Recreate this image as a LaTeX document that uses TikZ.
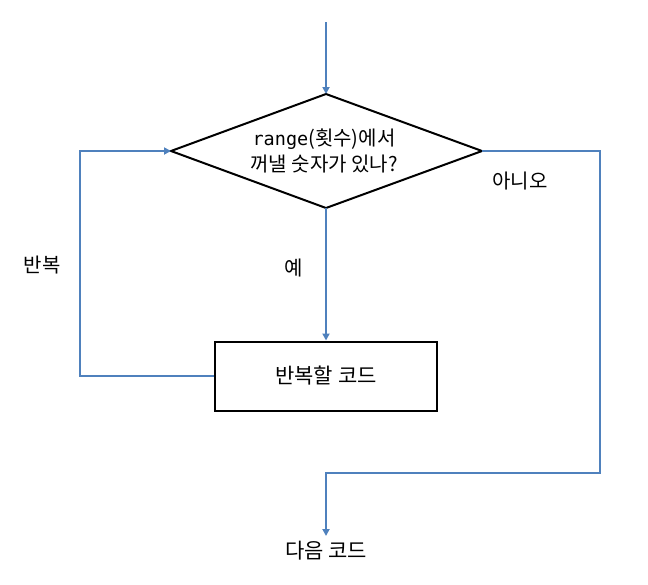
\documentclass[tikz,border=0pt]{standalone}
\usepackage{fontspec}
\setmainfont{Noto Sans CJK KR}
\newfontfamily\monofont{DejaVu Sans Mono}
\usetikzlibrary{arrows.meta}
\definecolor{lineblue}{RGB}{79,129,189}
\begin{document}
\begin{tikzpicture}[x=1pt,y=-1pt,
  conn/.style={draw=lineblue,line width=2pt},
  arr/.style={conn,-{Triangle[length=7pt,width=7pt]}},
  lbl/.style={font=\fontsize{20}{24}\selectfont,inner sep=0pt}]
\useasboundingbox (0,0) rectangle (648,584);
% diamond
\coordinate (dT) at (326,94);
\coordinate (dB) at (326,208);
\coordinate (dL) at (171,151);
\coordinate (dR) at (482,151);
\draw[line width=2pt] (dT) -- (dR) -- (dB) -- (dL) -- cycle;
\node[align=center,inner sep=0pt,font=\fontsize{20}{26}\selectfont] (dtext) at (324,151)
  {{\monofont\fontsize{18.5}{26}\selectfont range}(횟수)에서\\꺼낼 숫자가 있나?};
% rectangle
\node[draw,line width=2pt,minimum width=222pt,minimum height=69pt,inner sep=0pt,
  font=\fontsize{21}{24}\selectfont] (body) at (326,376) {반복할 코드};
% start
\coordinate (start) at (326,22);
\draw[arr] (start) -- (dT);
% yes
\draw[arr] (dB) -- (body.north);
% loop back
\coordinate (l1) at (80,376);
\coordinate (l2) at (80,151);
\draw[arr] (body.west) -- (l1) -- (l2) -- (dL);
% no
\coordinate (r1) at (600,151);
\coordinate (r2) at (600,473);
\coordinate (r3) at (326,473);
\coordinate (endp) at (326,536);
\draw[arr] (dR) -- (r1) -- (r2) -- (r3) -- (endp);
% labels
\node[lbl] (yes) at (294,268) {예};
\node[lbl] (no) at (520,181) {아니오};
\node[lbl] (rep) at (42,265) {반복};
\node[lbl,font=\fontsize{21}{24}\selectfont] (next) at (326,551) {다음 코드};
\end{tikzpicture}
\end{document}
